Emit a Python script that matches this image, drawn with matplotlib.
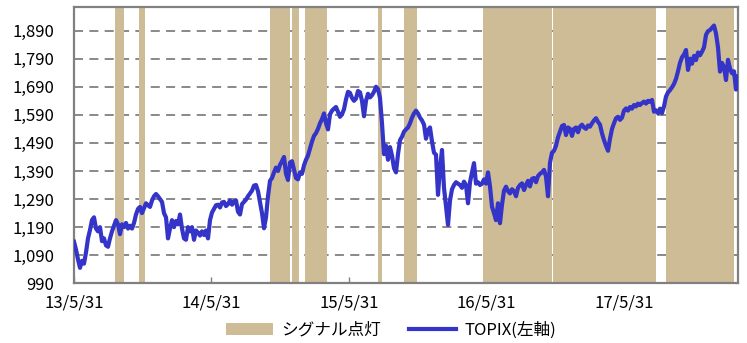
import numpy as np
import pandas as pd
import matplotlib
matplotlib.use("Agg")
import matplotlib.pyplot as plt
from matplotlib.patches import Patch
from matplotlib.lines import Line2D

plt.rcParams['font.family'] = ['Noto Sans CJK JP', 'DejaVu Sans']

start = "2013-05-31"
end = "2018-03-30"

# TOPIX, roughly every 5 days
topix = [
    1138, 1110, 1075, 1045, 1070, 1060, 1100, 1150, 1180, 1215, 1225, 1185, 1175, 1190, 1140, 1150,
    1125, 1120, 1150, 1175, 1195, 1215, 1200, 1165, 1200, 1190, 1205, 1185, 1195, 1185, 1205, 1235,
    1255, 1262, 1240, 1258, 1275, 1268, 1262, 1285, 1300, 1308, 1300, 1290, 1280, 1240, 1225, 1150,
    1185, 1215, 1190, 1212, 1200, 1235, 1185, 1150, 1145, 1190, 1175, 1190, 1145, 1178, 1170, 1160,
    1175, 1162, 1178, 1150, 1215, 1242, 1255, 1268, 1270, 1260, 1278, 1280, 1265, 1272, 1285, 1270,
    1282, 1285, 1245, 1235, 1272, 1280, 1288, 1300, 1310, 1320, 1338, 1340, 1318, 1280, 1240, 1186,
    1225, 1300, 1355, 1365, 1385, 1402, 1390, 1412, 1425, 1440, 1380, 1358, 1420, 1425, 1395, 1365,
    1360, 1385, 1380, 1410, 1430, 1445, 1470, 1495, 1515, 1525, 1540, 1560, 1575, 1595, 1560, 1538,
    1592, 1605, 1612, 1618, 1600, 1583, 1592, 1610, 1645, 1672, 1668, 1650, 1640, 1648, 1675, 1670,
    1640, 1585, 1640, 1665, 1652, 1660, 1672, 1690, 1682, 1650, 1560, 1450, 1480, 1430, 1475, 1445,
    1400, 1385, 1450, 1500, 1512, 1530, 1538, 1545, 1560, 1580, 1595, 1605, 1595, 1580, 1570, 1555,
    1505, 1535, 1545, 1495, 1455, 1448, 1305, 1400, 1465, 1330, 1265, 1198, 1285, 1325, 1340, 1350,
    1345, 1340, 1330, 1352, 1340, 1275, 1350, 1385, 1418, 1345, 1350, 1340, 1345, 1360, 1345, 1385,
    1335, 1263, 1240, 1215, 1275, 1204, 1270, 1320, 1334, 1318, 1310, 1325, 1318, 1300, 1330, 1340,
    1346, 1322, 1340, 1355, 1335, 1362, 1365, 1350, 1372, 1380, 1385, 1394, 1370, 1300, 1420, 1455,
    1462, 1480, 1510, 1530, 1550, 1554, 1518, 1545, 1540, 1515, 1540, 1545, 1528, 1548, 1555, 1545,
    1540, 1552, 1548, 1560, 1570, 1578, 1565, 1555, 1524, 1500, 1480, 1462, 1505, 1540, 1560, 1578,
    1583, 1572, 1580, 1605, 1613, 1605, 1618, 1612, 1625, 1620, 1630, 1625, 1632, 1637, 1630, 1640,
    1636, 1643, 1601, 1606, 1596, 1612, 1596, 1620, 1655, 1670, 1678, 1688, 1700, 1718, 1745, 1775,
    1795, 1805, 1821, 1750, 1790, 1772, 1800, 1785, 1812, 1802, 1815, 1830, 1875, 1888, 1892, 1900,
    1908, 1880, 1830, 1744, 1775, 1760, 1714, 1786, 1755, 1738, 1745, 1680, 1726,
]
dates = pd.date_range(start, end, periods=len(topix))

# periods where the signal was on
signal_start = ["2013-09-18", "2013-11-20", "2014-11-03", "2014-12-30", "2015-02-04",
                "2015-08-17", "2015-10-25", "2016-05-22", "2016-11-24", "2017-09-19"]
signal_end = ["2013-10-12", "2013-12-05", "2014-12-26", "2015-01-20", "2015-04-02",
              "2015-08-28", "2015-11-27", "2016-11-20", "2017-08-24", "2018-03-19"]

yticks = list(range(990, 1891, 100))
xticks = pd.to_datetime(["2013-05-31", "2014-05-31", "2015-05-31", "2016-05-31", "2017-05-31"])

band_color = "#CEBC97"
line_color = "#3434C8"
frame_color = "#808080"

fig = plt.figure(figsize=(7.47, 3.43), dpi=100)
ax = fig.add_axes([74 / 747, 1 - 283.3 / 343, 664 / 747, 276 / 343])

for s, e in zip(signal_start, signal_end):
    ax.axvspan(pd.Timestamp(s), pd.Timestamp(e), color=band_color, lw=0, zorder=2)

for v in yticks[1:]:
    ax.axhline(v, color=frame_color, lw=1.3, ls=(0, (5, 3.5)), zorder=1)

ax.plot(dates, topix, color=line_color, lw=3.0, zorder=3, solid_joinstyle="round")

ax.set_xlim(pd.Timestamp(start), pd.Timestamp(end))
ax.set_ylim(990, 1973)
ax.set_yticks(yticks)
ax.set_yticklabels([f"{v:,}" for v in yticks])
ax.set_xticks(xticks)
ax.set_xticklabels([f"{d.year % 100}/{d.month}/{d.day}" for d in xticks])
ax.tick_params(axis="y", length=0, pad=14, labelsize=12)
ax.tick_params(axis="x", direction="in", length=4, width=1, color=frame_color, pad=8, labelsize=12)
for sp in ax.spines.values():
    sp.set_color(frame_color)
    sp.set_linewidth(1.6)

handles = [Patch(facecolor=band_color, edgecolor="none"),
           Line2D([0], [0], color=line_color, lw=3.0)]
fig.legend(handles, ["シグナル点灯", "TOPIX(左軸)"], loc="center", ncol=2,
           bbox_to_anchor=(391 / 747, 1 - 330 / 343), frameon=False, fontsize=12,
           handlelength=2.8, handletextpad=0.5, columnspacing=1.7)

fig.savefig("out.png", dpi=100)
